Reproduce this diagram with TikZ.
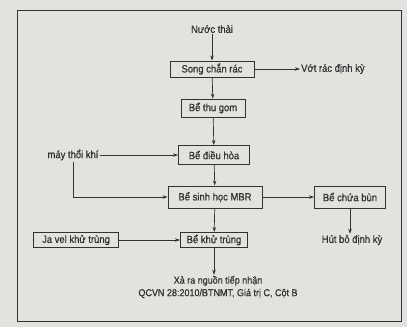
\documentclass[tikz,border=0pt]{standalone}
\usepackage{fontspec}
\setmainfont{Liberation Sans}[FakeStretch=0.9,FakeBold=0.6]
\usetikzlibrary{arrows.meta}
\definecolor{paper}{RGB}{226,226,222}
\definecolor{ink}{RGB}{50,50,50}
\begin{document}
\begin{tikzpicture}[x=1pt,y=-1pt,
  every node/.style={text=ink,font=\fontsize{10.5}{12}\selectfont,inner sep=1pt},
  box/.style={draw=ink,line width=0.9pt,minimum height=16pt,inner sep=2pt},
  conn/.style={draw=ink,line width=0.7pt,-{Stealth[length=5pt,width=3.5pt]}},
  plain/.style={draw=ink,line width=0.7pt}]
\fill[paper] (0,0) rectangle (407,327);
\useasboundingbox (0,0) rectangle (407,327);
\draw[ink,line width=0.9pt] (17,10) rectangle (401,321);
\node (nt) at (212,29) {Nước thải};
\node[box,minimum width=84pt] (scr) at (212,69) {Song chắn rác};
\node[anchor=west] (vr) at (300,69) {Vớt rác định kỳ};
\node[box,minimum width=64pt,minimum height=18pt] (tg) at (213,108) {Bể thu gom};
\node (mtk) at (73,155) {máy thổi khí};
\node[box,minimum width=71pt,minimum height=19pt] (dh) at (214,155) {Bể điều hòa};
\node[box,minimum width=94pt,minimum height=22pt] (mbr) at (215,197) {Bể sinh học MBR};
\node[box,minimum width=71pt,minimum height=22pt] (cb) at (350,197) {Bể chứa bùn};
\node (hb) at (352,240) {Hút bỏ định kỳ};
\node[box,minimum width=67pt,minimum height=15pt] (kt) at (214,240) {Bể khử trùng};
\node[box,minimum width=85pt,minimum height=15pt] (jv) at (76,240) {Ja vel khử trùng};
\node[align=center,font=\fontsize{10}{12.5}\selectfont] (xr) at (218,287) {Xả ra nguồn tiếp nhận\\QCVN 28:2010/BTNMT, Giá trị C, Cột B};
\draw[conn] (nt) -- (scr);
\draw[conn] (scr) -- (vr);
\draw[conn] (scr) -- (tg);
\draw[conn] (tg) -- (dh);
\draw[conn] (mtk) -- (dh);
\draw[conn] (mtk.south) |- (mbr.west);
\draw[conn] (dh) -- (mbr);
\draw[conn] (mbr) -- (cb);
\draw[conn] (cb.south) -- (cb.south |- hb.north);
\draw[conn] (mbr) -- (kt);
\draw[conn] (jv) -- (kt);
\draw[conn] (kt.south) -- (kt.south |- xr.north);
\end{tikzpicture}
\end{document}
